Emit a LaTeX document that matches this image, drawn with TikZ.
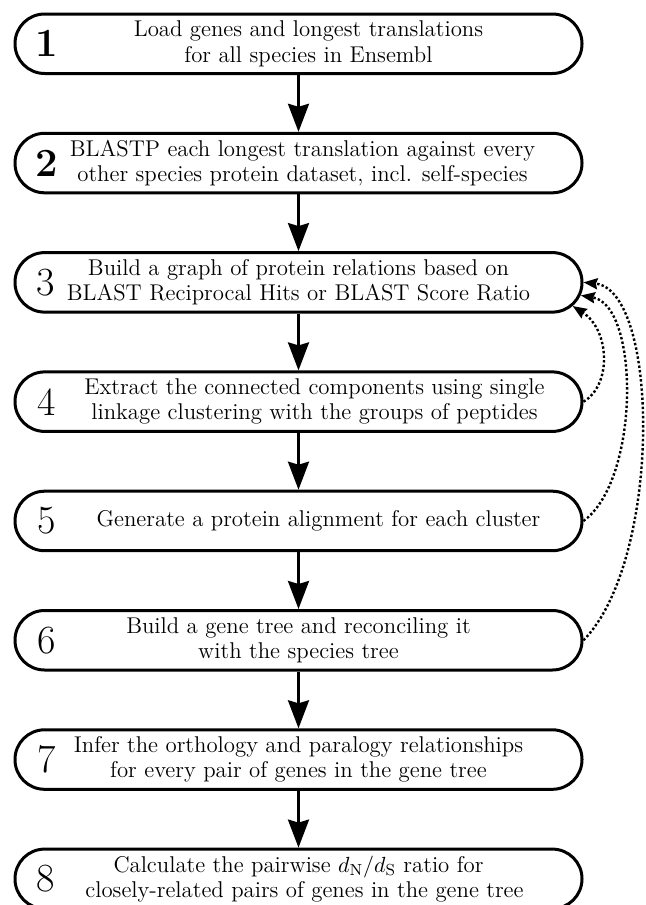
\documentclass[tikz,border=0pt]{standalone}
\usepackage{amsmath}
\usetikzlibrary{arrows.meta,calc}
\tikzset{
	step node/.style={draw, line width=1.5pt, rectangle, rounded corners=14.8pt, minimum width=283.5pt, minimum height=29.75pt, inner sep=0pt, align=center, font=\fontsize{11.4}{12.6}\selectfont},
	number node/.style={inner sep=0pt, font=\fontsize{20}{20}\selectfont},
	flow arrow/.style={line width=1.4pt, -{Stealth[length=14pt, width=10.5pt, inset=1.5pt]}},
	back arrow/.style={line width=1.2pt, dash pattern=on 1.2pt off 1.1pt, -{Stealth[length=7pt, width=5.5pt, inset=0.8pt]}},
}

\begin{document}
\begin{tikzpicture}[x=0.5pt, y=-0.5pt]
  \useasboundingbox (0,0) rectangle (645,905);

  % steps
  \node[step node] (s1) at (298.5,43.75) {\hspace*{10pt}Load genes and longest translations\\\hspace*{10pt}for all species in Ensembl};
  \node[step node] (s2) at (298.5,163.05) {\hspace*{4pt}BLASTP each longest translation against every\\\hspace*{4pt}other species protein dataset, incl. self-species};
  \node[step node] (s3) at (298.5,282.35) {Build a graph of protein relations based on\\BLAST Reciprocal Hits or BLAST Score Ratio};
  \node[step node] (s4) at (298.5,401.65) {\hspace*{16pt}Extract the connected components using single\\\hspace*{16pt}linkage clustering with the groups of peptides};
  \node[step node] (s5) at (298.5,520.95) {\hspace*{20pt}Generate a protein alignment for each cluster};
  \node[step node] (s6) at (298.5,640.25) {Build a gene tree and reconciling it\\with the species tree};
  \node[step node] (s7) at (298.5,759.55) {Infer the orthology and paralogy relationships\\for every pair of genes in the gene tree};
  \node[step node] (s8) at (298.5,878.85) {Calculate the pairwise $d_{\mathrm{N}}/d_{\mathrm{S}}$ ratio for\\\hspace*{6pt}closely-related pairs of genes in the gene tree};

  % step numbers
  \node[number node] (n1) at (47,43.75) {\bfseries 1};
  \node[number node] (n2) at (47,163.05) {\bfseries 2};
  \node[number node] (n3) at (46,282.35) {3};
  \node[number node] (n4) at (47,401.65) {4};
  \node[number node] (n5) at (47,520.95) {5};
  \node[number node] (n6) at (47,640.25) {6};
  \node[number node] (n7) at (47,759.55) {7};
  \node[number node] (n8) at (46,878.85) {8};

  % main flow
  \draw[flow arrow] (s1) -- (s2);
  \draw[flow arrow] (s2) -- (s3);
  \draw[flow arrow] (s3) -- (s4);
  \draw[flow arrow] (s4) -- (s5);
  \draw[flow arrow] (s5) -- (s6);
  \draw[flow arrow] (s6) -- (s7);
  \draw[flow arrow] (s7) -- (s8);

  % feedback into step 3
  \coordinate (in6) at ($(s3.east)+(0,0)$);
  \coordinate (in5) at ($(s3.east)+(-2.6,13.1)$);
  \coordinate (in4) at ($(s3.east)+(-10.8,23.7)$);
  \draw[back arrow] (s4.east) .. controls (612,385) and (610,330) .. (in4);
  \draw[back arrow] (s5.east) .. controls (640,480) and (640,305) .. (in5);
  \draw[back arrow] (s6.east) .. controls (662,560) and (660,290) .. (in6);
\end{tikzpicture}
\end{document}
